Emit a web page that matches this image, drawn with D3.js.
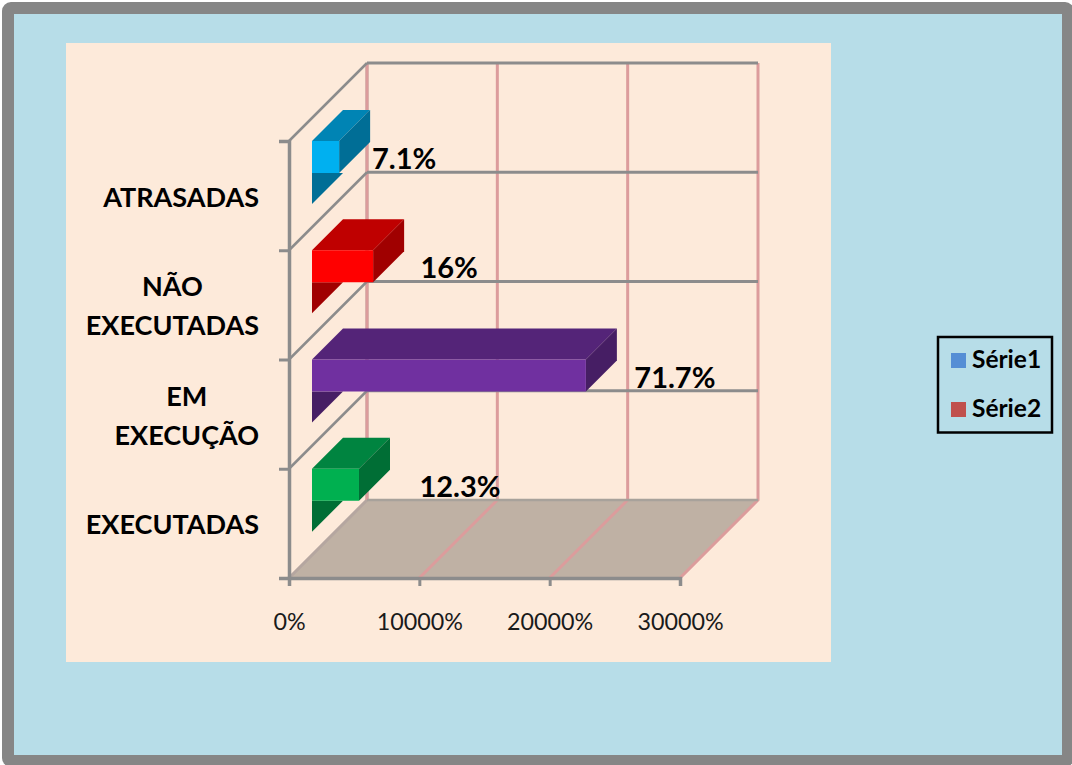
<!DOCTYPE html>
<html>
<head>
<meta charset="utf-8">
<script src="https://cdn.jsdelivr.net/npm/d3@7"></script>
<style>
  html, body { margin: 0; padding: 0; background: #fff; overflow: hidden; }
  svg { display: block; }
  text { font-family: Lato, "Open Sans", sans-serif; }
</style>
</head>
<body>
<div id="chart"></div>
<script>
// bottom to top, same order as the chart
const categories = [['EXECUTADAS'], ['EM', 'EXECUÇÃO'], ['NÃO', 'EXECUTADAS'], ['ATRASADAS']];
const values = [12.3, 71.7, 16, 7.1];
const valueLabels = ['12.3%', '71.7%', '16%', '7.1%'];
const axisTicks = [0, 10000, 20000, 30000];
const legendNames = ['Série1', 'Série2'];

const frontColors = ['#00B050', '#7030A0', '#FF0000', '#00B0F0'];
const topColors = ['#008440', '#542478', '#BF0000', '#0084B4'];
const sideColors = ['#006E35', '#461E64', '#A00000', '#006E96'];
const legendColors = ['#558ED5', '#C0504D'];

const width = 1072, height = 765;
const wallDepth = { x: 78, y: 78 };
const barDepth = 31, barHeight = 32, barStart = 312;
// labels sit at hand-placed distances from the bar ends in the original
const labelShift = [101, 89, 76, 65];

const svg = d3.select('#chart').append('svg')
  .attr('width', width)
  .attr('height', height)
  .attr('viewBox', `0 0 ${width} ${height}`);

// frame + plot panel
svg.append('rect')
  .attr('x', 8).attr('y', 8)
  .attr('width', 1060).attr('height', 753)
  .attr('rx', 3)
  .attr('fill', '#B7DDE8')
  .attr('stroke', '#868686')
  .attr('stroke-width', 12);
svg.append('rect')
  .attr('x', 66).attr('y', 43)
  .attr('width', 765).attr('height', 619)
  .attr('fill', '#FDEADA');

const xScale = d3.scaleLinear().domain([0, 30000]).range([289, 680]);
const yScale = d3.scaleLinear().domain([0, categories.length]).range([578, 141]);
const barScale = d3.scaleLinear().domain([0, 100]).range([0, 382]);

const mg = svg.append('g');

// floor
const floorY = yScale(0);
mg.append('polygon')
  .attr('points', [
    [xScale(0), floorY], [xScale(30000), floorY],
    [xScale(30000) + wallDepth.x, floorY - wallDepth.y], [xScale(0) + wallDepth.x, floorY - wallDepth.y]
  ].join(' '))
  .attr('fill', '#BFB1A4');

// back wall + floor, value lines
const gridGray = '#8C8C8C', gridPink = '#DC9C9C';
mg.append('g').selectAll('polyline')
  .data(axisTicks)
  .join('polyline')
  .attr('points', d => [
    [xScale(d), floorY],
    [xScale(d) + wallDepth.x, floorY - wallDepth.y],
    [xScale(d) + wallDepth.x, yScale(categories.length) - wallDepth.y]
  ].join(' '))
  .attr('fill', 'none')
  .attr('stroke', d => d === 0 ? '#B5A6A0' : gridPink)
  .attr('stroke-width', 3);
mg.append('line')
  .attr('x1', xScale(0) + wallDepth.x).attr('x2', xScale(0) + wallDepth.x)
  .attr('y1', floorY - wallDepth.y).attr('y2', yScale(categories.length) - wallDepth.y)
  .attr('stroke', gridPink)
  .attr('stroke-width', 3);

// back wall, horizontal lines
mg.append('g').selectAll('line')
  .data(d3.range(1, categories.length + 1))
  .join('line')
  .attr('x1', xScale(0) + wallDepth.x)
  .attr('x2', xScale(30000) + wallDepth.x)
  .attr('y1', d => yScale(d) - wallDepth.y)
  .attr('y2', d => yScale(d) - wallDepth.y)
  .attr('stroke', gridGray)
  .attr('stroke-width', 3);
mg.append('line')
  .attr('x1', xScale(0) + wallDepth.x).attr('x2', xScale(30000) + wallDepth.x)
  .attr('y1', floorY - wallDepth.y).attr('y2', floorY - wallDepth.y)
  .attr('stroke', '#A8A29B').attr('stroke-width', 2.5);

// left wall
mg.append('g').selectAll('line')
  .data(d3.range(1, categories.length + 1))
  .join('line')
  .attr('x1', xScale(0))
  .attr('x2', xScale(0) + wallDepth.x)
  .attr('y1', d => yScale(d))
  .attr('y2', d => yScale(d) - wallDepth.y)
  .attr('stroke', gridGray)
  .attr('stroke-width', 2.5);

// axes
const xAxis = mg.append('g')
  .attr('transform', `translate(0,${floorY})`)
  .call(d3.axisBottom(xScale).tickValues(axisTicks).tickSize(8).tickPadding(27).tickFormat(d => d + '%'));
const yAxis = mg.append('g')
  .attr('transform', `translate(${xScale(0)},0)`)
  .call(d3.axisLeft(yScale).ticks(categories.length).tickSize(10).tickFormat(''));
[xAxis, yAxis].forEach(a => {
  a.selectAll('path').attr('stroke', gridGray).attr('stroke-width', 3.5);
  a.selectAll('line').attr('stroke', gridGray).attr('stroke-width', 3);
});
xAxis.selectAll('text')
  .attr('font-size', 23.3)
  .attr('fill', '#1a1a1a')
  .style('font-family', 'Lato, sans-serif');

// bars
const bars = mg.append('g').selectAll('g')
  .data(values)
  .join('g');

// dark wedge hanging under the front face
bars.append('polygon')
  .attr('points', (d, i) => {
    const y = yScale(i + 1) + barHeight;
    return [[barStart, y], [barStart + barDepth, y], [barStart, y + barDepth]].join(' ');
  })
  .attr('fill', (d, i) => sideColors[i]);
bars.append('polygon')
  .attr('points', (d, i) => {
    const x = barStart + barScale(d), y = yScale(i + 1);
    return [[barStart, y], [x, y], [x + barDepth, y - barDepth], [barStart + barDepth, y - barDepth]].join(' ');
  })
  .attr('fill', (d, i) => topColors[i]);
bars.append('polygon')
  .attr('points', (d, i) => {
    const x = barStart + barScale(d), y = yScale(i + 1);
    return [[x, y], [x + barDepth, y - barDepth], [x + barDepth, y - barDepth + barHeight], [x, y + barHeight]].join(' ');
  })
  .attr('fill', (d, i) => sideColors[i]);
bars.append('rect')
  .attr('x', barStart)
  .attr('y', (d, i) => yScale(i + 1))
  .attr('width', d => barScale(d))
  .attr('height', barHeight)
  .attr('fill', (d, i) => frontColors[i]);

// value labels
mg.append('g').selectAll('text')
  .data(values)
  .join('text')
  .attr('x', (d, i) => barStart + barScale(d) + labelShift[i])
  .attr('y', (d, i) => yScale(i + 1) + barHeight - 4)
  .attr('text-anchor', 'middle')
  .attr('font-size', 29)
  .attr('font-weight', 700)
  .attr('fill', '#000')
  .text((d, i) => valueLabels[i]);

// category labels: block is right aligned, lines centred inside it
const catGroup = mg.append('g').selectAll('text')
  .data(categories)
  .join('text')
  .attr('font-size', 27)
  .attr('font-weight', 700)
  .attr('fill', '#000')
  .attr('text-anchor', 'middle');
catGroup.each(function (lines, i) {
  const t = d3.select(this);
  const longest = d3.max(lines, s => {
    t.text(s);
    return this.getComputedTextLength();
  });
  t.text(null);
  const cx = 259 - longest / 2;
  const mid = (yScale(i) + yScale(i + 1)) / 2 + 11;
  lines.forEach((s, k) => {
    t.append('tspan')
      .attr('x', cx)
      .attr('y', mid + (k - (lines.length - 1) / 2) * 39)
      .text(s);
  });
});

// legend
const legend = svg.append('g').attr('transform', 'translate(938,337)');
legend.append('rect')
  .attr('width', 114).attr('height', 95.5)
  .attr('fill', 'none')
  .attr('stroke', '#000')
  .attr('stroke-width', 2.5);
const rows = legend.selectAll('g')
  .data(legendNames)
  .join('g')
  .attr('transform', (d, i) => `translate(13,${16 + i * 49})`);
rows.append('rect')
  .attr('width', 15).attr('height', 15)
  .attr('fill', (d, i) => legendColors[i]);
rows.append('text')
  .attr('x', 21).attr('y', 15)
  .attr('font-size', 24.5)
  .attr('font-weight', 700)
  .attr('fill', '#000')
  .text(d => d);
</script>
</body>
</html>
